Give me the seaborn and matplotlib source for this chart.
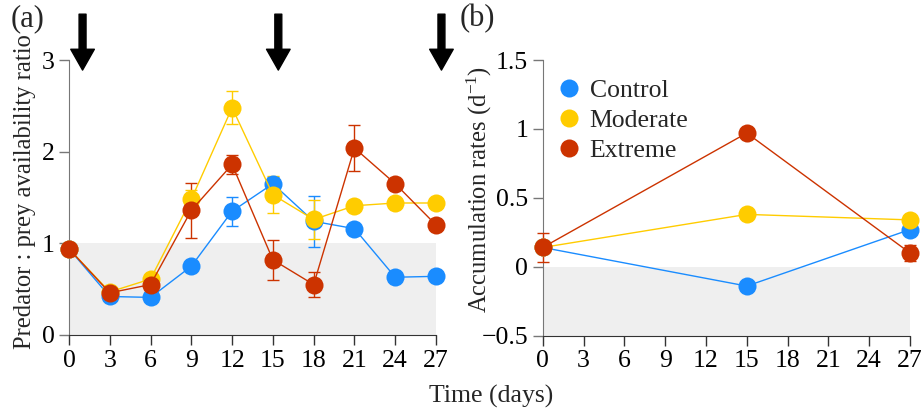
import matplotlib
matplotlib.use("Agg")
import matplotlib.pyplot as plt
from matplotlib.lines import Line2D
import numpy as np
import pandas as pd
import seaborn as sns

# --- data -------------------------------------------------------------
treatments = ["Control", "Moderate", "Extreme"]
colors = ["#1a8cff", "#ffcc00", "#cc3300"]

days_a = [0, 3, 6, 9, 12, 15, 18, 21, 24, 27]
ratio_control = [0.94, 0.42, 0.41, 0.75, 1.35, 1.65, 1.24, 1.16, 0.63, 0.64]
ratio_moderate = [0.94, 0.47, 0.61, 1.48, 2.48, 1.53, 1.26, 1.41, 1.44, 1.44]
ratio_extreme = [0.94, 0.46, 0.55, 1.36, 1.86, 0.82, 0.55, 2.04, 1.65, 1.20]
err_control = [0.03, 0.04, 0.04, 0.05, 0.16, 0.07, 0.28, 0.05, 0.04, 0.05]
err_moderate = [0.03, 0.04, 0.06, 0.10, 0.18, 0.20, 0.21, 0.05, 0.05, 0.05]
err_extreme = [0.03, 0.04, 0.05, 0.30, 0.10, 0.22, 0.14, 0.25, 0.05, 0.05]

days_b = [0, 15, 27]
rate_control = [0.14, -0.14, 0.27]
rate_moderate = [0.14, 0.38, 0.34]
rate_extreme = [0.14, 0.97, 0.10]
rerr_control = [0.03, 0.03, 0.04]
rerr_moderate = [0.03, 0.03, 0.03]
rerr_extreme = [0.105, 0.03, 0.06]

arrow_days = [1.0, 15.4, 27.4]

# --- style ------------------------------------------------------------
sns.set_style("ticks")
plt.rcParams["font.family"] = ["Liberation Serif", "DejaVu Serif"]
plt.rcParams["mathtext.fontset"] = "custom"
plt.rcParams["mathtext.rm"] = "Liberation Serif"
plt.rcParams["mathtext.it"] = "Liberation Serif:italic"
plt.rcParams["axes.unicode_minus"] = True
FS = 18.5      # tick labels
LFS = 17.7     # axis labels

df_a = pd.DataFrame({
    "day": days_a * 3,
    "value": ratio_control + ratio_moderate + ratio_extreme,
    "err": err_control + err_moderate + err_extreme,
    "treatment": np.repeat(treatments, len(days_a)),
})
df_b = pd.DataFrame({
    "day": days_b * 3,
    "value": rate_control + rate_moderate + rate_extreme,
    "err": rerr_control + rerr_moderate + rerr_extreme,
    "treatment": np.repeat(treatments, len(days_b)),
})
palette = dict(zip(treatments, colors))

fig = plt.figure(figsize=(9.22, 4.13), dpi=100)
ax_a = fig.add_axes([0.0748, 0.1889, 0.3981, 0.6658])
ax_b = fig.add_axes([0.5886, 0.1872, 0.3984, 0.6675])


def draw_panel(ax, df, shade_lo, shade_hi):
    ax.axhspan(shade_lo, shade_hi, xmin=0, xmax=1, color="#efefef", lw=0, zorder=0)
    for i, t in enumerate(treatments):
        sub = df[df["treatment"] == t]
        ax.errorbar(sub["day"], sub["value"], yerr=sub["err"], fmt="none",
                    ecolor=palette[t], elinewidth=1.0, capsize=4, capthick=1.0,
                    zorder=2 + i * 2, clip_on=False)
    sns.lineplot(data=df, x="day", y="value", hue="treatment", palette=palette,
                 hue_order=treatments, marker="o", markersize=13, markeredgewidth=0,
                 linewidth=1.0, legend=False, ax=ax, zorder=3, clip_on=False)
    # keep draw order control < moderate < extreme
    for i, line in enumerate(ax.lines):
        line.set_zorder(3 + i * 2)
        line.set_clip_on(False)
    for s in ["top", "right"]:
        ax.spines[s].set_visible(False)
    ax.spines["left"].set_color("#777777")
    ax.spines["bottom"].set_color("#333333")
    ax.tick_params(axis="both", direction="out", length=7, width=1, labelsize=FS,
                   colors="black")
    ax.tick_params(axis="y", color="#777777")
    ax.tick_params(axis="x", color="#333333")
    ax.set_xlim(0, 27)
    ax.set_xticks(days_a)
    ax.set_xlabel("")


draw_panel(ax_a, df_a, 0, 1)
ax_a.set_ylim(0, 3)
ax_a.set_yticks([0, 1, 2, 3])
ax_a.set_ylabel("Predator : prey availability ratio", fontsize=LFS)
ax_a.yaxis.set_label_coords(-0.09, 0.52)

draw_panel(ax_b, df_b, -0.5, 0)
ax_b.set_ylim(-0.5, 1.5)
ax_b.set_yticks([-0.5, 0, 0.5, 1, 1.5])
ax_b.set_yticklabels(["\u22120.5", "0", "0.5", "1", "1.5"])
ax_b.set_ylabel("Accumulation rates (d$^{-1}$)", fontsize=LFS)
ax_b.yaxis.set_label_coords(-0.133, 0.53)

# sampling arrows above panel (a)
for d in arrow_days:
    ax_a.annotate("", xy=(d, 2.89), xytext=(d, 3.50), annotation_clip=False,
                  arrowprops=dict(facecolor="black", edgecolor="black", width=5,
                                  headwidth=17, headlength=15, shrink=0))

handles = [Line2D([], [], marker="o", linestyle="none", markersize=13,
                  markeredgewidth=0, color=c) for c in colors]
ax_b.legend(handles, treatments, loc="upper left", bbox_to_anchor=(-0.019, 0.996),
            frameon=False, fontsize=FS, handletextpad=0.2, labelspacing=0.27,
            borderaxespad=0.3, handlelength=1.2)

fig.text(0.012, 1 - 19 / 413, "(a)", fontsize=22, va="center", ha="left")
fig.text(0.499, 1 - 19 / 413, "(b)", fontsize=22, va="center", ha="left")
fig.text(491 / 922, 1 - 396 / 413, "Time (days)", fontsize=FS, va="center", ha="center")

fig.savefig("out.png", dpi=100)
